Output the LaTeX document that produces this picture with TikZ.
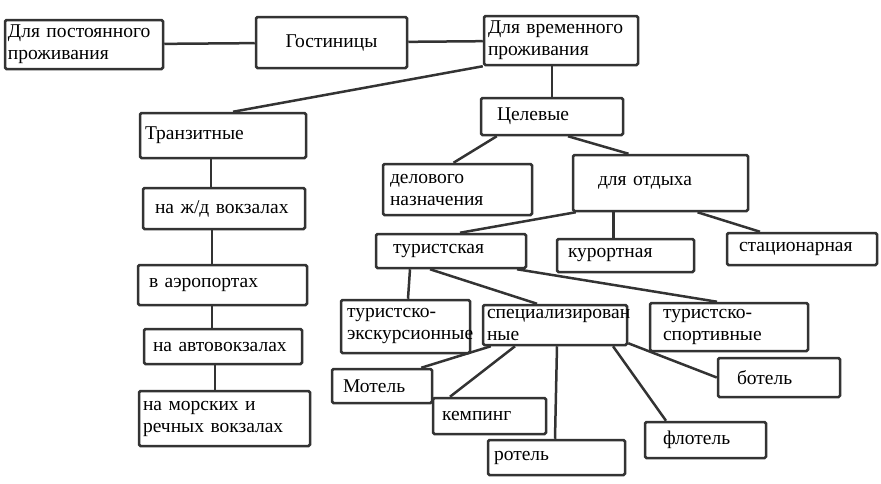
\documentclass[tikz,border=0pt]{standalone}
\usepackage{fontspec}
\setmainfont{Liberation Serif}
\usepackage{tikz}
\definecolor{boxline}{HTML}{333333}
\hyphenpenalty=10000
\exhyphenpenalty=10000

\tikzset{
    box/.style={draw=boxline, line width=2.5pt, rounded corners=1.5pt,
        inner ysep=0pt, align=left, font=\fontsize{19.5}{22}\selectfont},
    link/.style={draw=boxline, line width=2.5pt}
}

\begin{document}
\begin{tikzpicture}[x=1pt,y=-1pt]
    \useasboundingbox (0,0) rectangle (881,483);
    % top row
    \node[box, minimum height=49pt, text width=152pt, inner xsep=3pt] (post) at (84,44.5) {Для постоянного\\проживания};
    \node[box, minimum height=51pt, text width=145pt, inner xsep=3pt, align=center] (gost) at (331.5,42.5) {Гостиницы};
    \node[box, minimum height=49pt, text width=146pt, inner xsep=4pt] (vrem) at (561,40.5) {Для временного\\проживания};
    % transit branch
    \node[box, minimum height=45pt, text width=156pt, inner xsep=5pt] (tranz) at (223,135.5) {Транзитные};
    \node[box, minimum height=41pt, text width=138pt, inner xsep=12pt] (zhd) at (224,208.5) {на ж/д вокзалах};
    \node[box, minimum height=40pt, text width=147pt, inner xsep=11pt] (aero) at (222.5,285) {в аэропортах};
    \node[box, minimum height=35pt, text width=140pt, inner xsep=9pt] (avto) at (223,346.5) {на автовокзалах};
    \node[box, minimum height=55pt, text width=163pt, inner xsep=4pt] (mor) at (224.5,418.5) {на морских и\\речных вокзалах};
    % target branch
    \node[box, minimum height=37pt, text width=110pt, inner xsep=16pt] (cel) at (552,116.5) {Целевые};
    \node[box, minimum height=51pt, text width=135pt, inner xsep=7pt] (del) at (457.5,189.5) {делового\\назначения};
    \node[box, minimum height=56pt, text width=125pt, inner xsep=25pt] (otd) at (660.5,183) {для отдыха};
    \node[box, minimum height=34pt, text width=116pt, inner xsep=17pt] (tur) at (451,251) {туристская};
    \node[box, minimum height=33pt, text width=115pt, inner xsep=11pt] (kur) at (625.5,255.5) {курортная};
    \node[box, minimum height=32pt, text width=126pt, inner xsep=12pt] (stac) at (802,249) {стационарная};
    \node[box, minimum height=53pt, text width=117pt, inner xsep=6pt] (eks) at (405.5,326.5) {туристско-\\экскурсионные};
    \node[box, minimum height=40pt, text width=136pt, inner xsep=4pt] (spec) at (555,325) {специализирован\\ные};
    \node[box, minimum height=48pt, text width=132pt, inner xsep=13pt] (sport) at (729,327) {туристско-\\спортивные};
    % specialised ones
    \node[box, minimum height=34pt, text width=78pt, inner xsep=11pt] (motel) at (382,386) {Мотель};
    \node[box, minimum height=36pt, text width=95pt, inner xsep=9pt] (kemp) at (489.5,416) {кемпинг};
    \node[box, minimum height=35pt, text width=125pt, inner xsep=6pt] (rotel) at (556.5,457.5) {ротель};
    \node[box, minimum height=36pt, text width=85pt, inner xsep=18pt] (flotel) at (705.5,440) {флотель};
    \node[box, minimum height=39pt, text width=84pt, inner xsep=19pt] (botel) at (779,377.5) {ботель};

    \draw[link] (post) -- (gost);
    \draw[link] (gost) -- (vrem);
    \draw[link] (vrem.south west) -- ([xshift=10pt]tranz.north);
    \draw[link] (vrem.south -| cel.north) -- (cel.north);
    \draw[link] ([xshift=-12pt]tranz.south) -- ([xshift=-13pt]zhd.north);
    \draw[link] ([xshift=-12pt]zhd.south) -- ([xshift=-10.5pt]aero.north);
    \draw[link] ([xshift=-10.5pt]aero.south) -- ([xshift=-11pt]avto.north);
    \draw[link] ([xshift=-8pt]avto.south) -- ([xshift=-9.5pt]mor.north);
    \draw[link] ([xshift=17pt]cel.south west) -- ([xshift=-4pt]del.north);
    \draw[link] ([xshift=16pt]cel.south) -- ([xshift=-32pt]otd.north);
    \draw[link] ([xshift=4pt]otd.south west) -- ([xshift=9pt]tur.north);
    \draw[link] ([xshift=-47pt]otd.south) -- ([xshift=-12pt]kur.north);
    \draw[link] ([xshift=37pt]otd.south) -- ([xshift=-42pt]stac.north);
    \draw[link] ([xshift=-41pt]tur.south) -- ([xshift=2.5pt]eks.north);
    \draw[link] ([xshift=-21pt]tur.south) -- ([xshift=-18pt]spec.north);
    \draw[link] ([xshift=66pt]tur.south) -- ([xshift=-12pt]sport.north);
    \draw[link] ([xshift=9pt]spec.south west) -- ([xshift=-12pt]motel.north east);
    \draw[link] ([xshift=-40pt]spec.south) -- ([xshift=-39.5pt]kemp.north);
    \draw[link] ([xshift=2pt]spec.south) -- (spec.south |- rotel.north);
    \draw[link] ([xshift=58pt]spec.south) -- ([xshift=-39.5pt]flotel.north);
    \draw[link] ([yshift=3pt]spec.south east) -- (botel.west);
\end{tikzpicture}
\end{document}
